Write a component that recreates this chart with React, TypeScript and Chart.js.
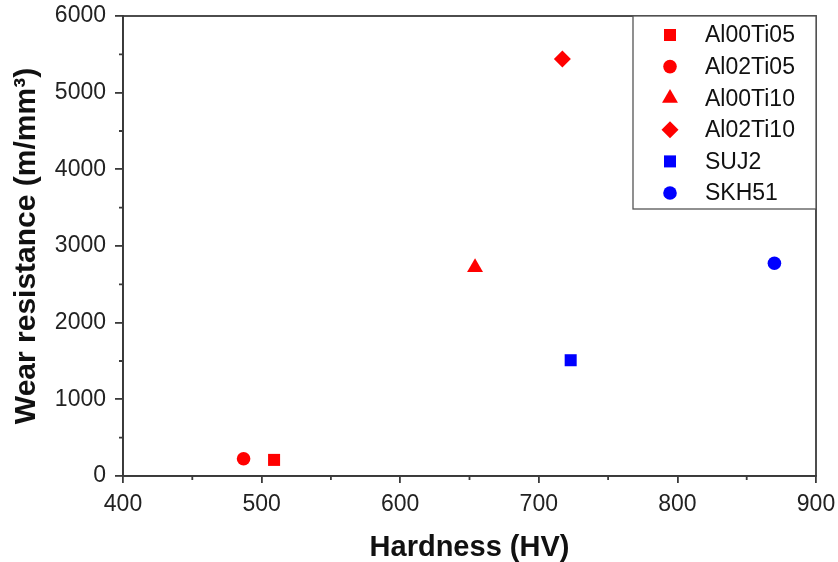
import React, { useEffect, useRef } from 'react';
import { Chart, registerables } from 'chart.js';
import { drawPoint } from 'chart.js/helpers';

Chart.register(...registerables);

const seriesLabels = ['Al00Ti05', 'Al02Ti05', 'Al00Ti10', 'Al02Ti10', 'SUJ2', 'SKH51'];
const hardnessHV = [509, 487, 654, 717, 723, 870];
const wearResistance = [210, 225, 2720, 5440, 1510, 2775];
const seriesColors = ['#ff0000', '#ff0000', '#ff0000', '#ff0000', '#0000ff', '#0000ff'];
const seriesShapes = ['rect', 'circle', 'triangle', 'rectRot', 'rect', 'circle'];
const markerRadius = [8.5, 6.8, 9.2, 8.5, 8.5, 6.8];
const xMinorTicks = [450, 550, 650, 750, 850];
const yMinorTicks = [500, 1500, 2500, 3500, 4500, 5500];

const FONT = "Arial, 'Liberation Sans', Helvetica, sans-serif";
const AXIS_COLOR = '#3a3a3a';

const framePlugin = {
  id: 'frameAndMinor',
  afterDraw(chart: any) {
    const ctx = chart.ctx;
    const { left, right, top, bottom } = chart.chartArea;
    const xs = chart.scales.x;
    const ys = chart.scales.y;
    ctx.save();
    ctx.strokeStyle = AXIS_COLOR;
    ctx.lineWidth = 1.8;
    ctx.strokeRect(left, top, right - left, bottom - top);
    ctx.beginPath();
    xMinorTicks.forEach((v) => {
      const p = xs.getPixelForValue(v);
      ctx.moveTo(p, bottom);
      ctx.lineTo(p, bottom + 4);
    });
    yMinorTicks.forEach((v) => {
      const p = ys.getPixelForValue(v);
      ctx.moveTo(left, p);
      ctx.lineTo(left - 4, p);
    });
    ctx.stroke();

    // legend box inside plot (top-right)
    const boxW = 183;
    const boxH = 193;
    const bx = right - boxW;
    const by = top;
    ctx.fillStyle = '#ffffff';
    ctx.fillRect(bx, by, boxW, boxH);
    ctx.strokeStyle = '#555555';
    ctx.lineWidth = 1.3;
    ctx.strokeRect(bx, by, boxW, boxH);
    chart.data.datasets.forEach((ds: any, i: number) => {
      const y = by + 19 + i * 31.6;
      ctx.fillStyle = ds.backgroundColor;
      ctx.strokeStyle = ds.borderColor;
      drawPoint(ctx, { pointStyle: ds.pointStyle, radius: ds.pointRadius, borderWidth: 0, rotation: 0 } as any, bx + 37, y);
      ctx.fillStyle = '#111111';
      ctx.font = `23px ${FONT}`;
      ctx.textBaseline = 'middle';
      ctx.textAlign = 'left';
      ctx.fillText(ds.label, bx + 72, y + 1);
    });
    ctx.restore();
  },
};

export default function App() {
  const canvasRef = useRef<HTMLCanvasElement | null>(null);

  useEffect(() => {
    document.body.style.margin = '0';
    const canvas = canvasRef.current;
    if (!canvas) return;
    const datasets = seriesLabels.map((label, i) => ({
      label,
      data: [{ x: hardnessHV[i], y: wearResistance[i] }],
      backgroundColor: seriesColors[i],
      borderColor: seriesColors[i],
      pointStyle: seriesShapes[i],
      pointRadius: markerRadius[i],
      pointHoverRadius: markerRadius[i],
      pointBorderWidth: 0,
      showLine: false,
    }));
    const chart = new Chart(canvas, {
      type: 'scatter',
      data: { datasets },
      options: {
        animation: false,
        responsive: true,
        maintainAspectRatio: false,
        layout: { padding: { left: 0, right: 22, top: 16, bottom: 0 } },
        plugins: {
          legend: { display: false },
          tooltip: { enabled: false },
        },
        scales: {
          x: {
            type: 'linear',
            min: 400,
            max: 900,
            afterFit: (s: any) => {
              s.height = 86;
              s.paddingLeft = 0;
              s.paddingRight = 0;
            },
            ticks: {
              stepSize: 100,
              color: '#222',
              font: { family: FONT, size: 23 },
              padding: 8,
              maxRotation: 0,
              callback: (v: any) => String(v),
            },
            grid: {
              drawOnChartArea: false,
              drawTicks: true,
              tickLength: 7,
              color: AXIS_COLOR,
              lineWidth: 1.8,
            },
            border: { display: true, color: AXIS_COLOR, width: 1.8 },
            title: {
              display: true,
              text: 'Hardness (HV)',
              color: '#111',
              font: { family: FONT, size: 29, weight: 'bold', lineHeight: 1 },
              padding: { top: 0, bottom: 0 },
            },
          },
          y: {
            type: 'linear',
            min: 0,
            max: 6000,
            afterFit: (s: any) => {
              s.width = 123;
              s.paddingTop = 0;
              s.paddingBottom = 0;
            },
            ticks: {
              stepSize: 1000,
              color: '#222',
              font: { family: FONT, size: 23 },
              padding: 9,
              callback: (v: any) => String(v),
            },
            grid: {
              drawOnChartArea: false,
              drawTicks: true,
              tickLength: 8,
              color: AXIS_COLOR,
              lineWidth: 1.8,
            },
            border: { display: true, color: AXIS_COLOR, width: 1.8 },
            title: {
              display: true,
              text: 'Wear resistance (m/mm³)',
              color: '#111',
              font: { family: FONT, size: 30, weight: 'bold', lineHeight: 1 },
              padding: { top: 12, bottom: 0 },
            },
          },
        },
      } as any,
      plugins: [framePlugin],
    });
    return () => chart.destroy();
  }, []);

  return (
    <div style={{ position: 'absolute', left: 0, top: 0, width: 838, height: 562 }}>
      <canvas ref={canvasRef} />
    </div>
  );
}
